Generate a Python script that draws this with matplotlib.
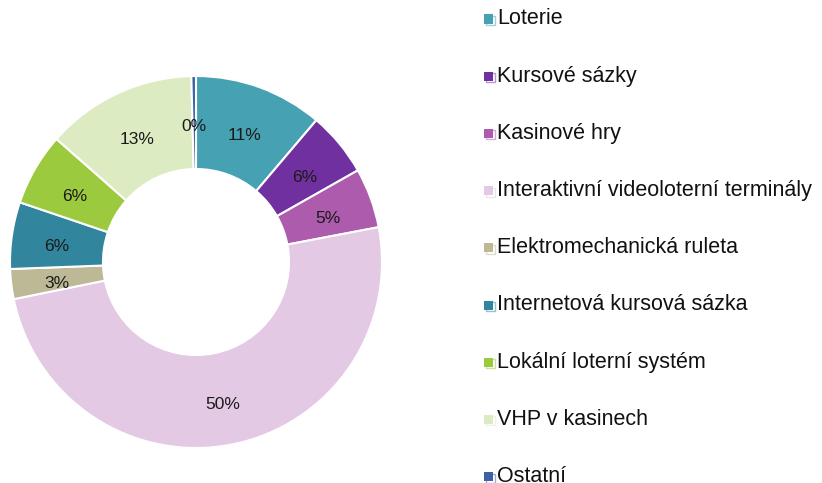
import matplotlib
matplotlib.use("Agg")
import matplotlib.pyplot as plt
import matplotlib.transforms as mtransforms
from matplotlib.patches import Rectangle

plt.rcParams["font.family"] = ["Liberation Sans", "DejaVu Sans"]

# podíly jednotlivých typů her (v %)
categories = ["Loterie", "Kursové sázky", "Kasinové hry",
              "Interaktivní videoloterní terminály", "Elektromechanická ruleta",
              "Internetová kursová sázka", "Lokální loterní systém",
              "VHP v kasinech", "Ostatní"]
shares = [11.2, 5.6, 5.2, 49.8, 2.6, 5.8, 6.3, 13.1, 0.4]
colors = ["#46A1B3", "#7030A0", "#AD5BAD", "#E3C9E4", "#BDB895",
          "#31859C", "#9BCA3E", "#DDEBC3", "#3D60A8"]

W, H = 822, 483
fig = plt.figure(figsize=(W / 100, H / 100), dpi=100)

# kruh: střed (196, 262) px, poloměr 186 px
cx, cy, R = 196, 262, 186
ax = fig.add_axes([(cx - R) / W, (H - cy - R) / H, 2 * R / W, 2 * R / H])
wedges, _, pct = ax.pie(shares, colors=colors, startangle=90, counterclock=False,
                        autopct=lambda p: "%.0f%%" % p, pctdistance=0.755,
                        wedgeprops=dict(width=0.5, edgecolor="white", linewidth=1.5),
                        textprops=dict(fontsize=12.5, color="#1a1a1a"))
# popisky v originále sedí o kousek níž
for t in pct:
    t.set_transform(mtransforms.offset_copy(t.get_transform(), fig=fig, y=-3.5, units="points"))
ax.set_xlim(-1, 1)
ax.set_ylim(-1, 1)
ax.set_aspect("equal")
ax.axis("off")

# legenda ručně
for i, (lab, col) in enumerate(zip(categories, colors)):
    ypx = 19 + 57.2 * i
    y = 1 - ypx / H
    s = 9
    fig.patches.append(Rectangle(((484 + 1.5) / W, y - (s / 2 + 1.5) / H), s / W, s / H,
                                 transform=fig.transFigure, facecolor="none",
                                 edgecolor=col, alpha=0.5, linewidth=1))
    fig.patches.append(Rectangle((484 / W, y - s / 2 / H), s / W, s / H,
                                 transform=fig.transFigure, facecolor=col,
                                 edgecolor="none"))
    fig.text(497 / W, y, lab, fontsize=15.5, va="center", ha="left", color="#111111")

fig.savefig("out.png", dpi=100)
